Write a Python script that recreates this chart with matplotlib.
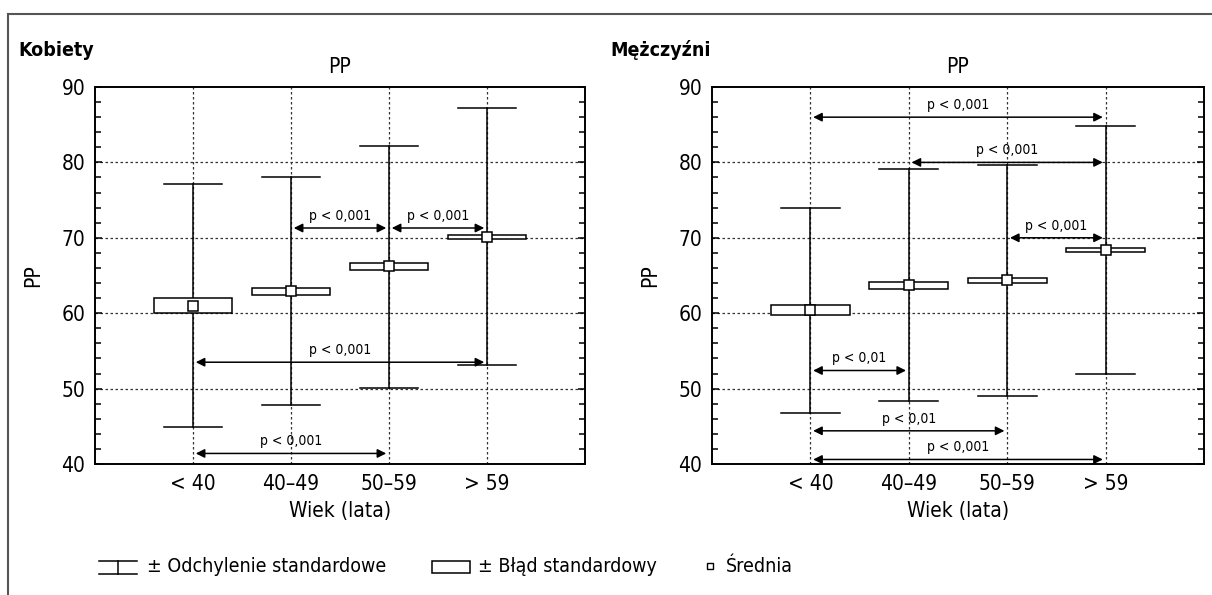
import numpy as np
import matplotlib
matplotlib.use("Agg")
import matplotlib.pyplot as plt
from matplotlib.lines import Line2D
from matplotlib.patches import Rectangle
from matplotlib.ticker import MultipleLocator

plt.rcParams["font.family"] = ["DejaVu Sans"]
plt.rcParams["font.stretch"] = "condensed"

categories = ["< 40", "40–49", "50–59", "> 59"]

# Kobiety
k_mean = [61.0, 62.9, 66.2, 70.1]
k_se_low = [60.0, 62.4, 65.7, 69.9]
k_se_high = [62.0, 63.4, 66.6, 70.35]
k_sd_low = [44.9, 47.8, 50.1, 53.1]
k_sd_high = [77.1, 78.0, 82.2, 87.2]
# (from, to, y, label)
k_comp = [(1, 2, 71.3, "p < 0,001"),
          (2, 3, 71.3, "p < 0,001"),
          (0, 3, 53.5, "p < 0,001"),
          (0, 2, 41.4, "p < 0,001")]

# Mężczyźni
m_mean = [60.4, 63.7, 64.4, 68.35]
m_se_low = [59.7, 63.2, 64.0, 68.1]
m_se_high = [61.1, 64.1, 64.7, 68.6]
m_sd_low = [46.8, 48.4, 49.0, 51.9]
m_sd_high = [74.0, 79.1, 79.7, 84.8]
m_comp = [(0, 3, 86.0, "p < 0,001"),
          (1, 3, 80.0, "p < 0,001"),
          (2, 3, 70.0, "p < 0,001"),
          (0, 1, 52.4, "p < 0,01"),
          (0, 2, 44.4, "p < 0,01"),
          (0, 3, 40.6, "p < 0,001")]

W, H = 1212, 595
fig = plt.figure(figsize=(W / 100, H / 100), dpi=100)


def fx(px):
    return px / W


def fy(py):
    return 1 - py / H


def draw_panel(ax, mean, se_lo, se_hi, sd_lo, sd_hi, comps):
    x = np.arange(1, len(categories) + 1)
    ax.set_xlim(0, 5)
    ax.set_ylim(40, 90)
    for xi in x:
        ax.axvline(xi, color="#333333", lw=0.9, ls=(0, (2, 2)), zorder=1)
    for yv in [50, 60, 70, 80]:
        ax.axhline(yv, color="#333333", lw=0.9, ls=(0, (2, 2)), zorder=1)
    for i, xi in enumerate(x):
        ax.plot([xi, xi], [sd_lo[i], sd_hi[i]], color="black", lw=1.1, zorder=2)
        ax.plot([xi - 0.3, xi + 0.3], [sd_lo[i], sd_lo[i]], color="black", lw=1.1, zorder=2)
        ax.plot([xi - 0.3, xi + 0.3], [sd_hi[i], sd_hi[i]], color="black", lw=1.1, zorder=2)
        ax.add_patch(Rectangle((xi - 0.4, se_lo[i]), 0.8, se_hi[i] - se_lo[i],
                               facecolor="white", edgecolor="black", lw=1.1, zorder=3))
        ax.plot(xi, mean[i], marker="s", ms=6.5, mfc="white", mec="black", mew=1.1, zorder=4)
    for a, b, yv, lab in comps:
        ax.annotate("", xy=(x[b], yv), xytext=(x[a], yv),
                    arrowprops=dict(arrowstyle="<|-|>", color="black", lw=1.1,
                                    mutation_scale=13, shrinkA=2, shrinkB=2),
                    zorder=5)
        ax.text((x[a] + x[b]) / 2, yv + 0.7, lab, ha="center", va="bottom",
                fontsize=10, zorder=5)
    ax.set_xticks(x)
    ax.set_xticklabels(categories)
    ax.yaxis.set_major_locator(MultipleLocator(10))
    ax.yaxis.set_minor_locator(MultipleLocator(2))
    ax.tick_params(axis="x", length=0, pad=7, labelsize=15)
    ax.tick_params(axis="y", which="both", direction="in", left=True, right=True,
                   labelsize=15, pad=7)
    ax.tick_params(axis="y", which="major", length=5, width=1.1)
    ax.tick_params(axis="y", which="minor", length=4, width=1.1)
    for s in ax.spines.values():
        s.set_linewidth(1.4)
    ax.set_title("PP", fontsize=15, pad=10)
    ax.set_xlabel("Wiek (lata)", fontsize=15, labelpad=5)
    ax.set_ylabel("PP", fontsize=15)
    ax.yaxis.set_label_coords(-0.105, 0.5)


ax1 = fig.add_axes([fx(95), fy(464), fx(585) - fx(95), fy(87) - fy(464)])
ax2 = fig.add_axes([fx(712), fy(464), fx(1204) - fx(712), fy(87) - fy(464)])
draw_panel(ax1, k_mean, k_se_low, k_se_high, k_sd_low, k_sd_high, k_comp)
draw_panel(ax2, m_mean, m_se_low, m_se_high, m_sd_low, m_sd_high, m_comp)

fig.text(fx(18), fy(50), "Kobiety", fontsize=14, fontweight="bold", va="center")
fig.text(fx(610), fy(50), "Mężczyźni", fontsize=14, fontweight="bold", va="center")

# outer frame
fig.add_artist(Line2D([fx(8), 1], [fy(14), fy(14)], color="#555555", lw=1.5))
fig.add_artist(Line2D([fx(8), fx(8)], [fy(14), 0], color="#555555", lw=1.5))

# legend
fig.add_artist(Line2D([fx(99), fx(137)], [fy(561), fy(561)], color="black", lw=1.1))
fig.add_artist(Line2D([fx(99), fx(137)], [fy(574), fy(574)], color="black", lw=1.1))
fig.add_artist(Line2D([fx(118), fx(118)], [fy(561), fy(574)], color="black", lw=1.1))
fig.text(fx(147), fy(567), "± Odchylenie standardowe", fontsize=14, va="center")
fig.add_artist(Rectangle((fx(432), fy(573)), fx(470) - fx(432), fy(561) - fy(573),
                         facecolor="white", edgecolor="black", lw=1.1,
                         transform=fig.transFigure))
fig.text(fx(478), fy(567), "± Błąd standardowy", fontsize=14, va="center")
fig.add_artist(Line2D([fx(710)], [fy(566)], marker="s", ms=5, mfc="white",
                      mec="black", mew=1.0))
fig.text(fx(726), fy(567), "Średnia", fontsize=14, va="center")

fig.savefig("out.png", dpi=100)
